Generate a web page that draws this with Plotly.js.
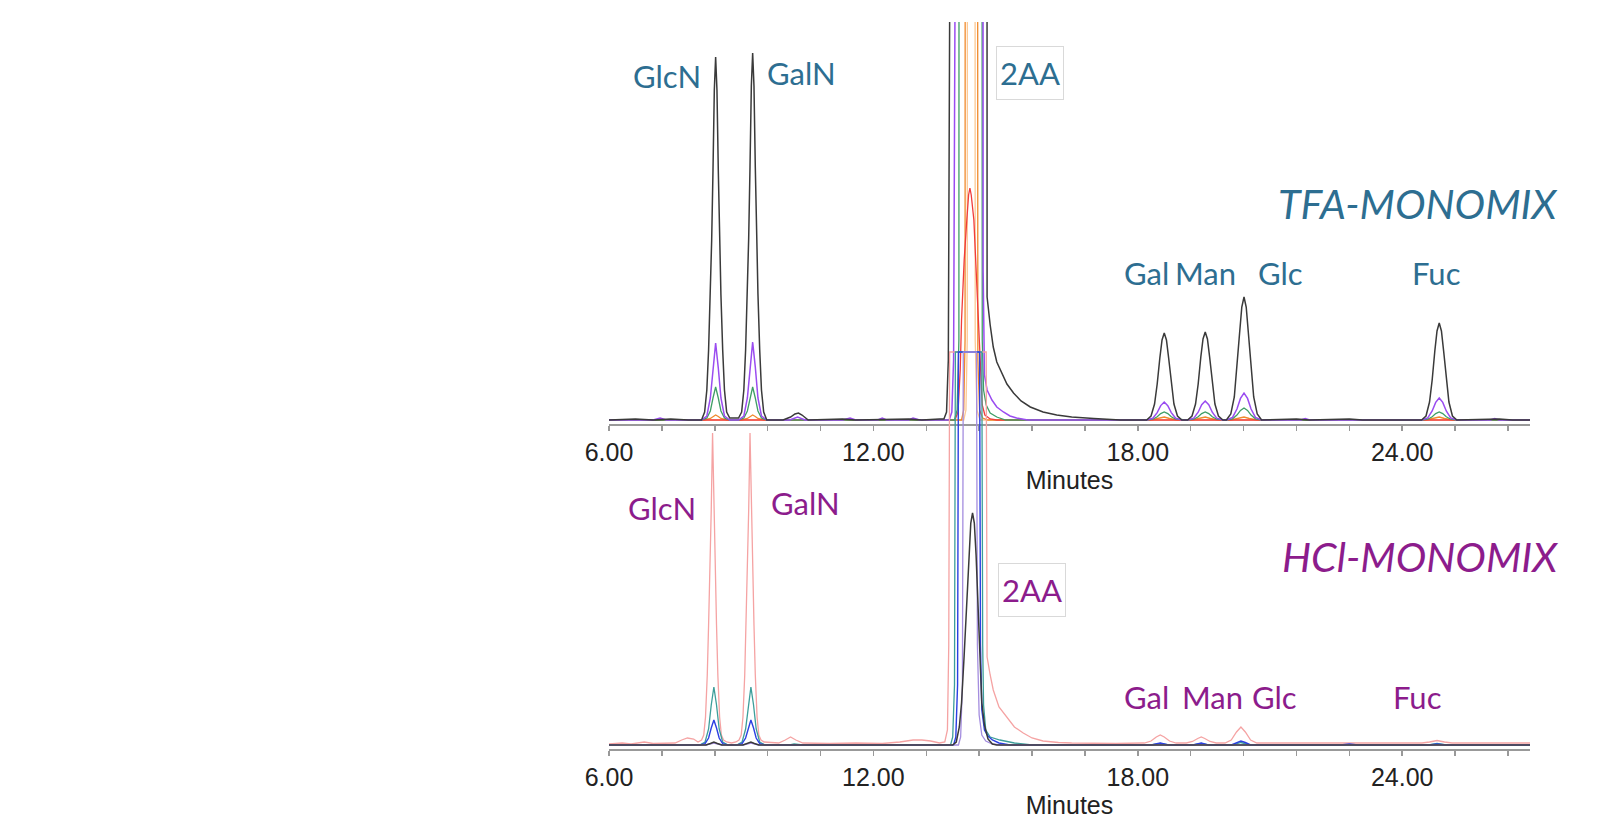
<!DOCTYPE html>
<html>
<head>
<meta charset="utf-8">
<script src="https://cdn.plot.ly/plotly-3.0.1.min.js"></script>
<style>html,body{margin:0;padding:0;background:#fff;}#chart{width:1623px;height:832px;}</style>
</head>
<body>
<div id="chart"></div>
<script>
// ---------- DATA (minutes, signal height) ----------
const tickVals = [6, 12, 18, 24];
const tickText = ['6.00', '12.00', '18.00', '24.00'];
const axisTitle = 'Minutes';

const tfaLabels = ['GlcN', 'GalN', '2AA', 'Gal', 'Man', 'Glc', 'Fuc'];
const hclLabels = ['GlcN', 'GalN', '2AA', 'Gal', 'Man', 'Glc', 'Fuc'];
const panelNames = ['TFA-MONOMIX', 'HCl-MONOMIX'];

// TFA hydrolysis (upper chromatogram)
const tfaBlack = [[6.0,0],[6.6,1],[7.0,0],[7.4,1],[7.8,0],
 [8.10,0],[8.17,8],[8.22,30],[8.26,70],[8.30,125],[8.33,180],[8.36,250],[8.39,330],[8.42,363],[8.45,330],[8.48,250],[8.51,180],[8.54,125],[8.58,70],[8.62,30],[8.67,8],[8.74,2],
 [8.84,2],
 [8.94,2],[9.01,8],[9.06,30],[9.10,70],[9.14,126],[9.17,182],[9.20,253],[9.23,334],[9.26,367],[9.29,334],[9.32,253],[9.35,182],[9.38,126],[9.42,70],[9.46,30],[9.51,8],[9.58,0],
 [9.95,0],[10.12,3],[10.22,6],[10.30,7],[10.38,5],[10.52,0],
 [11.3,1],[11.6,0],[12.8,1],[13.1,0],[13.5,1],
 [13.60,1],[13.66,8],[13.70,60],[13.73,400],[13.75,3000],[14.57,3000],[14.58,123],[14.65,95],[14.72,73],[14.80,58],[14.91,47],[15.03,36],[15.18,27],[15.35,19],[15.56,13],[15.85,8],[16.16,5],[16.5,3],[17.0,1.5],[17.6,0],
 [18.20,0],[18.30,4],[18.38,16],[18.44,36],[18.50,62],[18.55,80],[18.60,87],[18.65,80],[18.70,62],[18.76,36],[18.82,16],[18.90,4],[19.00,0],
 [19.13,0],[19.23,4],[19.31,16],[19.37,36],[19.43,63],[19.48,81],[19.53,88],[19.58,81],[19.63,63],[19.69,36],[19.75,16],[19.83,4],[19.93,0],
 [20.01,0],[20.11,6],[20.19,23],[20.25,51],[20.31,87],[20.36,113],[20.41,123],[20.46,113],[20.51,87],[20.57,51],[20.63,23],[20.71,6],[20.81,0],
 [21.6,1],[21.9,0],[22.8,1],[23.1,0],
 [24.44,0],[24.54,4],[24.62,18],[24.68,40],[24.74,69],[24.79,89],[24.84,97],[24.89,89],[24.94,69],[25.00,40],[25.06,18],[25.14,4],[25.24,0],
 [26.2,1],[26.5,0],[26.9,0]];

const tfaPurple = [[6.0,0],[7.0,0],[7.16,2],[7.3,0],[8.10,0],
 [8.22,4],[8.30,22],[8.36,52],[8.42,77],[8.48,52],[8.54,22],[8.62,4],[8.74,0],
 [8.94,0],[9.06,4],[9.14,22],[9.20,53],[9.26,78],[9.32,53],[9.38,22],[9.46,4],[9.58,0],
 [10.1,0],[10.28,3],[10.45,0],[11.3,0],[11.47,2],[11.6,0],[12.1,0],[12.2,2],[12.3,0],[12.8,0],[12.9,2],[13.05,0],
 [13.72,0],[13.78,8],[13.82,60],[13.85,400],[13.87,3000],[14.47,3000],[14.49,150],[14.52,45],[14.58,30],[14.69,20],[14.80,13],[14.95,8],[15.10,4],[15.25,2],[15.5,0],
 [18.20,0],[18.34,1.7],[18.44,7.4],[18.52,14.4],[18.60,18],[18.68,14.4],[18.76,7.4],[18.86,1.7],[19.00,0],
 [19.13,0],[19.27,1.8],[19.37,7.8],[19.45,15.2],[19.53,19],[19.61,15.2],[19.69,7.8],[19.79,1.8],[19.93,0],
 [20.01,0],[20.15,2.6],[20.25,11],[20.33,21.6],[20.41,27],[20.49,21.6],[20.57,11],[20.67,2.6],[20.81,0],
 [21.7,0],[21.8,1.5],[21.9,0],
 [24.44,0],[24.58,2.1],[24.68,9],[24.76,17.6],[24.84,22],[24.92,17.6],[25.00,9],[25.10,2.1],[25.24,0],
 [26.0,0],[26.1,1.5],[26.2,0],[26.9,0]];

const tfaGreen = [[6.0,0],[8.10,0],
 [8.22,2],[8.30,9],[8.36,22],[8.42,33],[8.48,22],[8.54,9],[8.62,2],[8.74,0],
 [8.94,0],[9.06,2],[9.14,9],[9.20,22],[9.26,33],[9.32,22],[9.38,9],[9.46,2],[9.58,0],
 [13.84,0],[13.90,10],[13.94,80],[13.96,3000],[14.44,3000],[14.47,80],[14.50,30],[14.56,15],[14.65,7],[14.80,3],[15.0,0],
 [18.20,0],[18.34,0.8],[18.44,3.3],[18.52,6.4],[18.60,8],[18.68,6.4],[18.76,3.3],[18.86,0.8],[19.00,0],
 [19.13,0],[19.27,0.8],[19.37,3.3],[19.45,6.4],[19.53,8],[19.61,6.4],[19.69,3.3],[19.79,0.8],[19.93,0],
 [20.01,0],[20.15,1.2],[20.25,4.9],[20.33,9.6],[20.41,12],[20.49,9.6],[20.57,4.9],[20.67,1.2],[20.81,0],
 [24.44,0],[24.58,0.8],[24.68,3.3],[24.76,6.4],[24.84,8],[24.92,6.4],[25.00,3.3],[25.10,0.8],[25.24,0],
 [26.9,0]];

const tfaOrange = [[6.0,0],[8.16,0],[8.30,1.5],[8.36,3.5],[8.42,5],[8.48,3.5],[8.54,1.5],[8.68,0],
 [9.00,0],[9.14,1.5],[9.20,3.5],[9.26,5],[9.32,3.5],[9.38,1.5],[9.52,0],
 [14.00,0],[14.05,10],[14.08,80],[14.10,3000],[14.34,3000],[14.37,60],[14.41,10],[14.48,2],[14.6,0],
 [18.30,0],[18.48,1.5],[18.60,3],[18.72,1.5],[18.90,0],
 [19.23,0],[19.41,1.5],[19.53,3],[19.65,1.5],[19.83,0],
 [20.11,0],[20.29,1.5],[20.41,3],[20.53,1.5],[20.71,0],
 [24.54,0],[24.72,1.5],[24.84,3],[24.96,1.5],[25.14,0],[26.9,0]];

const tfaPeach = [[6.0,0],[14.05,0],[14.10,10],[14.13,80],[14.15,3000],[14.29,3000],[14.31,80],[14.35,10],[14.42,0],[26.9,0]];

const tfaRed = [[6.0,0],[13.85,0],[13.92,8],[13.97,50],[14.00,100],[14.06,160],[14.12,200],[14.16,225],[14.19,232],[14.22,225],[14.28,200],[14.33,150],[14.38,100],[14.42,50],[14.47,15],[14.53,5],[14.65,1],[14.8,0],[26.9,0]];

// HCl hydrolysis (lower chromatogram)
const hclPink = [[6.0,1],[6.3,2],[6.5,1],[6.8,3],[7.0,1.5],[7.3,2],[7.5,2],[7.65,5],[7.78,7],[7.92,6],[8.02,3],
 [8.10,5],[8.15,10],[8.19,28],[8.23,70],[8.26,120],[8.29,170],[8.32,235],[8.35,312],[8.38,235],[8.41,170],[8.44,120],[8.47,70],[8.51,28],[8.55,10],[8.60,5],[8.67,3],
 [8.78,2],
 [8.88,3],[8.95,5],[9.00,10],[9.04,28],[9.08,70],[9.11,120],[9.14,170],[9.17,235],[9.20,312],[9.23,235],[9.26,170],[9.29,120],[9.32,70],[9.36,28],[9.40,10],[9.45,5],[9.52,3],
 [9.85,2],[10.0,5],[10.12,8],[10.24,5],[10.40,2],
 [11.0,1.5],[11.6,2],[12.2,1.5],[12.6,3],[12.9,5],[13.1,5],[13.3,4],[13.5,2],
 [13.62,3],[13.68,15],[13.71,100],[13.73,393],[14.56,393],[14.57,200],[14.58,88],[14.65,70],[14.72,55],[14.85,38],[15.03,28],[15.2,18],[15.40,12],[15.6,7],[15.85,4],[16.2,2.5],[16.5,2],
 [17.5,1.5],[18.1,2],
 [18.15,2],[18.30,4],[18.42,8],[18.51,10],[18.60,8],[18.72,4],[18.87,2],
 [19.10,2],[19.24,3.5],[19.36,6.5],[19.44,8],[19.52,6.5],[19.64,3.5],[19.78,2],
 [19.98,2],[20.12,5],[20.24,13],[20.34,18],[20.44,13],[20.56,5],[20.70,2],
 [22.0,2],[23.5,2],
 [24.45,2],[24.62,3],[24.79,4.5],[24.96,3],[25.13,2],[26.9,2]];

const hclTeal = [[6.0,0],[7.5,0.5],[8.06,0],
 [8.18,3],[8.26,16],[8.32,40],[8.38,58],[8.44,40],[8.50,16],[8.58,3],[8.70,0],
 [8.90,0],[9.02,3],[9.10,16],[9.16,40],[9.22,58],[9.28,40],[9.34,16],[9.42,3],[9.54,0],
 [10.1,0],[10.2,1],[10.4,0],[13.5,0],
 [13.75,0],[13.80,8],[13.84,60],[13.86,393],[14.46,393],[14.48,100],[14.50,40],[14.55,15],[14.65,8],[14.87,5],[15.2,2],[15.6,0],
 [18.3,0],[18.51,1.5],[18.7,0],[19.25,0],[19.44,1.5],[19.6,0],[20.15,0],[20.34,2.5],[20.55,0],
 [24.6,0],[24.79,1.5],[25.0,0],[26.9,0]];

const hclBlue = [[6.0,0],[8.06,0],
 [8.18,1.3],[8.26,7],[8.32,17],[8.38,25],[8.44,17],[8.50,7],[8.58,1.3],[8.70,0],
 [8.90,0],[9.02,1.3],[9.10,7],[9.16,17],[9.22,25],[9.28,17],[9.34,7],[9.42,1.3],[9.54,0],
 [13.82,0],[13.87,8],[13.91,60],[13.93,393],[14.41,393],[14.43,100],[14.46,35],[14.52,15],[14.60,9],[14.70,5],[14.85,2],[15.1,0],
 [18.3,0],[18.51,2],[18.7,0],[19.25,0],[19.44,2],[19.6,0],[20.12,0],[20.24,2.5],[20.34,4],[20.44,2.5],[20.56,0],
 [22.6,0],[22.8,1],[23.0,0],[24.6,0],[24.79,1],[25.0,0],[26.9,0]];

const hclLavender = [[6.0,0],[8.20,0],[8.38,2],[8.56,0],[9.04,0],[9.22,2],[9.40,0],
 [13.93,0],[13.98,8],[14.02,60],[14.04,393],[14.34,393],[14.36,100],[14.40,30],[14.46,10],[14.55,4],[14.7,1],[14.9,0],[26.9,0]];

const hclDark = [[6.0,0],[8.20,0],[8.30,1.5],[8.38,3],[8.46,1.5],[8.56,0],[9.04,0],[9.14,1.5],[9.22,3],[9.30,1.5],[9.40,0],
 [13.80,0],[13.88,3],[13.95,18],[14.00,42],[14.06,90],[14.12,142],[14.17,190],[14.21,222],[14.25,232],[14.29,222],[14.33,190],[14.37,142],[14.42,80],[14.46,42],[14.52,20],[14.60,6],[14.70,1],[14.8,0],[26.9,0]];

// ---------- LAYOUT GEOMETRY ----------
const L = 609, R = 93, T = 22, B = 83, FW = 1623, FH = 832;
const PW = FW - L - R, PH = FH - T - B;
const px = x => (x - L) / PW;
const py = y => (FH - B - y) / PH;

const tfaCol = '#2d6e91';
const hclCol = '#8c1c8c';
const labFont = "Lato, 'Open Sans', sans-serif";
const tickFont = {family: "'Liberation Sans', Arial, sans-serif", size: 25, color: '#222'};

function trace(pairs, color, xa, ya, w) {
  return {x: pairs.map(p => p[0]), y: pairs.map(p => p[1]), type: 'scatter', mode: 'lines',
          line: {color: color, width: w || 1.3}, xaxis: xa, yaxis: ya, hoverinfo: 'skip', showlegend: false};
}

const data = [
  trace(tfaPeach, '#fcc995', 'x', 'y'),
  trace(tfaOrange, '#f08a2c', 'x', 'y'),
  trace(tfaRed, '#f03c3c', 'x', 'y'),
  trace(tfaGreen, '#3f9e66', 'x', 'y'),
  trace(tfaPurple, '#9a4cf0', 'x', 'y', 1.5),
  trace(tfaBlack, '#3a3a3a', 'x', 'y', 1.5),
  trace(hclPink, '#f5a3a3', 'x2', 'y2'),
  trace(hclTeal, '#3d9e9a', 'x2', 'y2'),
  trace(hclBlue, '#2c40e2', 'x2', 'y2', 1.4),
  trace(hclLavender, '#a48ddf', 'x2', 'y2'),
  trace(hclDark, '#3a3a3a', 'x2', 'y2', 1.5)
];

function xAxis(anchor) {
  return {domain: [0, 1], range: [6, 26.9], anchor: anchor, tickmode: 'array', tickvals: tickVals, ticktext: tickText,
    ticks: 'outside', ticklen: 5, tickwidth: 1.5, tickcolor: '#999', showline: true, linecolor: '#999', linewidth: 1.5,
    showgrid: false, zeroline: false, tickfont: tickFont, fixedrange: true, automargin: true,
    minor: {tick0: 6, dtick: 1.2, ticks: 'outside', ticklen: 5, tickwidth: 1.5, tickcolor: '#999', showgrid: false},
    title: {text: axisTitle, font: tickFont, standoff: 0}};
}

const topLow = py(424), botHigh = py(350);

function lab(text, x, y, color, size, italic) {
  return {text: text, x: px(x), y: py(y), xref: 'paper', yref: 'paper', xanchor: 'center', yanchor: 'middle',
    showarrow: false, font: {family: labFont, size: size, color: color, style: italic ? 'italic' : 'normal'}};
}
function boxLab(text, x, y, color) {
  const a = lab(text, x, y, color, 31);
  a.bordercolor = '#d9d9d9'; a.borderwidth = 1; a.bgcolor = '#fff'; a.borderpad = 1; a.width = 64; a.height = 50;
  return a;
}

const annotations = [
  lab(tfaLabels[0], 667, 76, tfaCol, 31),
  lab(tfaLabels[1], 801, 73, tfaCol, 31),
  boxLab(tfaLabels[2], 1030, 73, tfaCol),
  lab(panelNames[0], 1417, 203, tfaCol, 41, true),
  lab(tfaLabels[3], 1146, 273, tfaCol, 31),
  lab(tfaLabels[4], 1205, 273, tfaCol, 31),
  lab(tfaLabels[5], 1280, 273, tfaCol, 31),
  lab(tfaLabels[6], 1436, 273, tfaCol, 31),
  lab(hclLabels[0], 662, 508, hclCol, 31),
  lab(hclLabels[1], 805, 503, hclCol, 31),
  boxLab(hclLabels[2], 1032, 590, hclCol),
  lab(panelNames[1], 1420, 556, hclCol, 41, true),
  lab(hclLabels[3], 1146, 697, hclCol, 31),
  lab(hclLabels[4], 1212, 697, hclCol, 31),
  lab(hclLabels[5], 1274, 697, hclCol, 31),
  lab(hclLabels[6], 1417, 697, hclCol, 31)
];

const layout = {
  width: FW, height: FH, margin: {l: L, r: R, t: T, b: B},
  paper_bgcolor: '#fff', plot_bgcolor: 'rgba(0,0,0,0)', showlegend: false, hovermode: false,
  xaxis: xAxis('y'),
  xaxis2: xAxis('y2'),
  yaxis: {domain: [topLow, 1], range: [-4, 398], visible: false, fixedrange: true},
  yaxis2: {domain: [0, botHigh], range: [-4, 395], visible: false, fixedrange: true},
  annotations: annotations
};

Plotly.newPlot('chart', data, layout, {displayModeBar: false, staticPlot: true});
</script>
</body>
</html>
